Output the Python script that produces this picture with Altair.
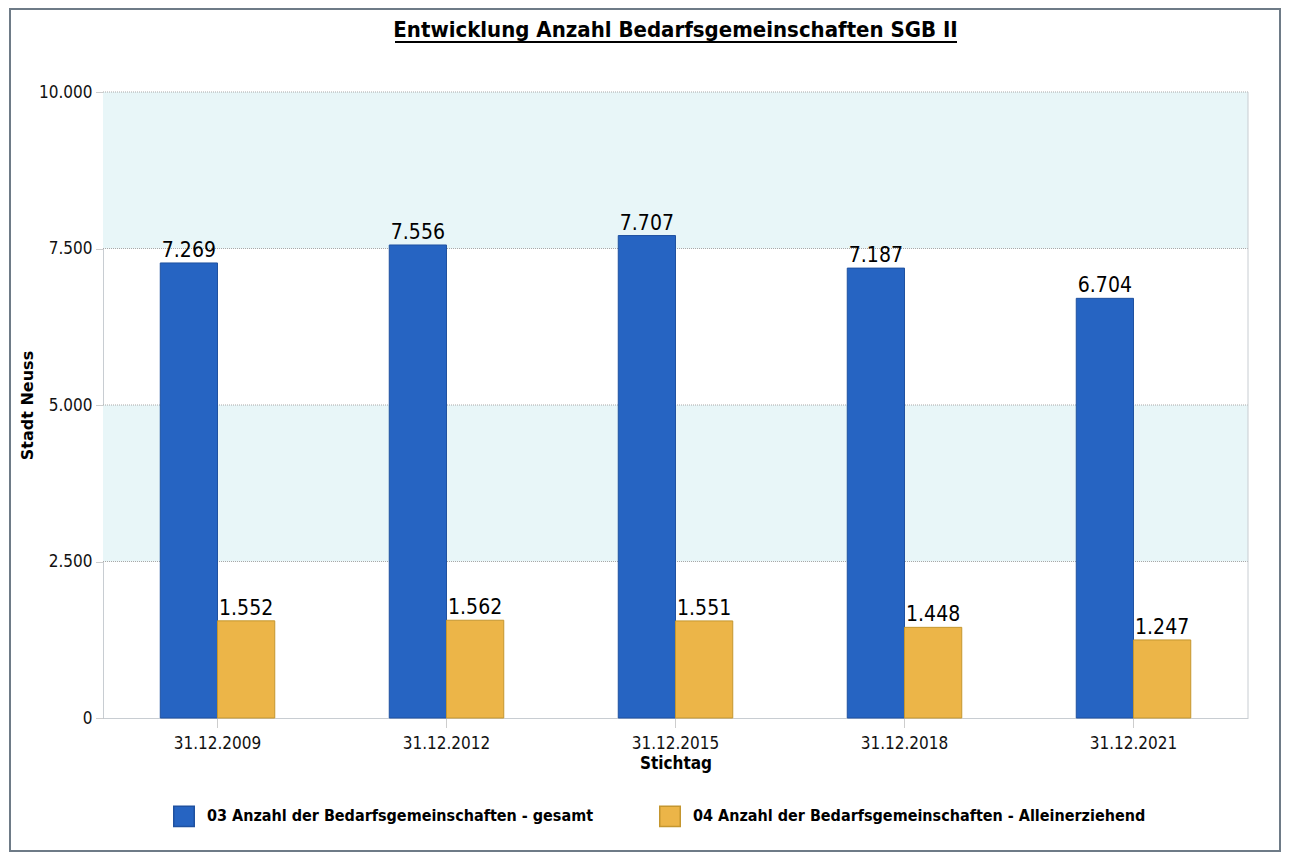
import altair as alt
import pandas as pd

# ---- data ----
dates = ["31.12.2009", "31.12.2012", "31.12.2015", "31.12.2018", "31.12.2021"]
series_names = [
    "03 Anzahl der Bedarfsgemeinschaften - gesamt",
    "04 Anzahl der Bedarfsgemeinschaften - Alleinerziehend",
]
gesamt = [7269, 7556, 7707, 7187, 6704]
allein = [1552, 1562, 1551, 1448, 1247]
y_ticks = [0, 2500, 5000, 7500, 10000]
band_lo = [7500, 2500]
band_hi = [10000, 5000]

fill_colors = ["#2664c2", "#ecb548"]
stroke_colors = ["#1f51a0", "#c4962f"]

W, H = 1145, 626
NARROW = "DejaVu Sans Condensed"

rows = []
for d, g, a in zip(dates, gesamt, allein):
    for s, v in zip(series_names, (g, a)):
        rows.append({"date": d, "series": s, "value": v,
                     "label": f"{v:,}".replace(",", ".")})
df = pd.DataFrame(rows)
bands = pd.DataFrame({"lo": band_lo, "hi": band_hi})
grid = pd.DataFrame({"v": y_ticks[1:]})

y_scale = alt.Scale(domain=[0, 10000])
x_enc = alt.X("date:N", sort=dates, scale=alt.Scale(paddingInner=0.5, paddingOuter=0.25),
              axis=alt.Axis(title="Stichtag", labelAngle=0, labelFont=NARROW,
                            labelFontSize=17, labelColor="#111111", labelPadding=7,
                            tickDash=[1, 1], tickSize=10, tickColor="#9a9a9a",
                            domainColor="#c8cdd2", titleFont=NARROW, titleFontSize=17,
                            titleFontWeight="bold", titleColor="#000000",
                            titlePadding=4))
xoff = alt.XOffset("series:N", sort=series_names, scale=alt.Scale(paddingInner=0))

band_layer = alt.Chart(bands).mark_rect(color="#e8f6f8").encode(
    x=alt.value(0), x2=alt.value(W),
    y=alt.Y("lo:Q", scale=y_scale), y2="hi:Q")

grid_layer = alt.Chart(grid).mark_rule(color="#a8a8a8", strokeDash=[1, 1]).encode(
    x=alt.value(0), x2=alt.value(W), y=alt.Y("v:Q", scale=y_scale))

right_edge = alt.Chart(alt.Data(values=[{}])).mark_rule(color="#c8cdd2").encode(
    x=alt.value(W), y=alt.value(0), y2=alt.value(H))

bars = alt.Chart(df).mark_bar(strokeWidth=1).encode(
    x=x_enc,
    xOffset=xoff,
    y=alt.Y("value:Q", scale=y_scale,
            axis=alt.Axis(values=y_ticks, grid=False, title="Stadt Neuss",
                          labelExpr="replace(format(datum.value, ','), ',', '.')",
                          labelFont=NARROW, labelFontSize=17, labelColor="#111111",
                          labelPadding=4, tickDash=[1, 1], tickSize=7,
                          tickColor="#9a9a9a", domainColor="#c8cdd2",
                          titleFont="DejaVu Sans", titleFontSize=16,
                          titleFontWeight="bold", titleColor="#000000",
                          titleX=-68, titleY=313)),
    fill=alt.Fill("series:N", sort=series_names,
                  scale=alt.Scale(domain=series_names, range=fill_colors),
                  legend=alt.Legend(title=None, orient="none", legendX=70, legendY=713,
                                    direction="horizontal", symbolType="square",
                                    symbolSize=420, labelFont=NARROW, labelFontSize=16,
                                    labelFontWeight="bold", labelColor="#000000",
                                    labelLimit=0, columnPadding=62, labelOffset=12)),
    stroke=alt.Stroke("series:N", sort=series_names,
                      scale=alt.Scale(domain=series_names, range=stroke_colors)),
)

labels = alt.Chart(df).mark_text(font=NARROW, fontSize=21, baseline="bottom",
                                 dy=-2, color="#000000").encode(
    x=alt.X("date:N", sort=dates),
    xOffset=xoff,
    y=alt.Y("value:Q", scale=y_scale),
    text="label:N")

frame = alt.Chart(alt.Data(values=[{}])).mark_rect(
    filled=False, stroke="#6e7b87", strokeWidth=2).encode(
    x=alt.value(-93), x2=alt.value(1177), y=alt.value(-83), y2=alt.value(759))

underline = alt.Chart(alt.Data(values=[{}])).mark_rule(
    color="#000000", strokeWidth=2).encode(
    x=alt.value(292), x2=alt.value(854), y=alt.value(-50))

chart = alt.layer(band_layer, grid_layer, right_edge, bars, labels, frame, underline).properties(
    width=W, height=H,
    title=alt.Title("Entwicklung Anzahl Bedarfsgemeinschaften SGB II",
                    font=NARROW, fontSize=22, fontWeight="bold", color="#000000",
                    anchor="middle", frame="group", baseline="bottom", offset=-56),
    autosize=alt.AutoSizeParams(type="none"),
    padding={"left": 95, "top": 84, "right": 33, "bottom": 137},
    background="#ffffff",
).configure_view(stroke=None)

chart.save("out.html", embed_options={"renderer": "svg", "actions": False})
